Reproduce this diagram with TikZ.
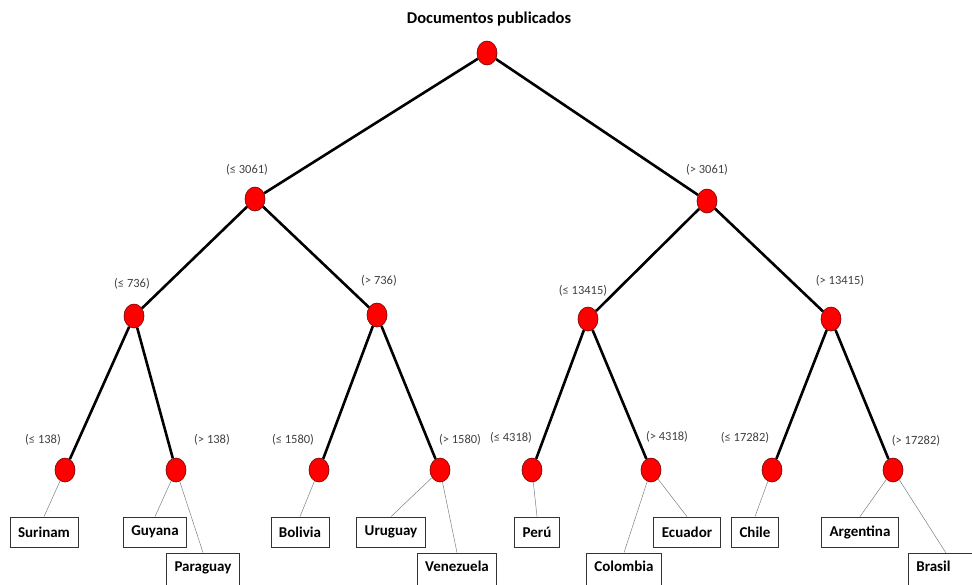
\documentclass[tikz,border=0pt]{standalone}
\usepackage{fontspec}
\setmainfont{Carlito}
\usetikzlibrary{shapes.geometric}
\begin{document}
\begin{tikzpicture}[x=1pt,y=-1pt,
  split/.style={ellipse,draw=red!45!black,line width=0.6pt,fill=red,minimum width=20pt,minimum height=24pt,inner sep=0pt},
  cond/.style={text=black!75,font=\fontsize{12.5}{14}\selectfont,inner sep=0pt},
  country/.style={draw=black!80,line width=0.8pt,fill=white,font=\bfseries\fontsize{15}{17}\selectfont,minimum height=30pt,inner xsep=8pt,inner ysep=0pt},
  lowcountry/.style={country,minimum height=36pt,text depth=9pt},
  branch/.style={line width=2.6pt,black},
  leafline/.style={line width=0.5pt,black!50}]
\useasboundingbox (0,0) rectangle (972,584);
\begin{scope}
\clip (0,0) rectangle (972,584);
% title
\node[font=\bfseries\fontsize{16.5}{19}\selectfont] (title) at (489,19) {Documentos publicados};
% split nodes
\node[split] (r) at (487,53) {};
\node[split] (a) at (255,199) {};
\node[split] (b) at (707,201) {};
\node[split] (aa) at (134,316) {};
\node[split] (ab) at (377,315) {};
\node[split] (ba) at (588,319) {};
\node[split] (bb) at (831,319) {};
\node[split] (aaa) at (65,470) {};
\node[split] (aab) at (176,470) {};
\node[split] (aba) at (319,470) {};
\node[split] (abb) at (440,470) {};
\node[split] (baa) at (532,470) {};
\node[split] (bab) at (651,470) {};
\node[split] (bba) at (772,470) {};
\node[split] (bbb) at (893,470) {};
% branches
\draw[branch] (r) -- (a);
\draw[branch] (r) -- (b);
\draw[branch] (a) -- (aa);
\draw[branch] (a) -- (ab);
\draw[branch] (b) -- (ba);
\draw[branch] (b) -- (bb);
\draw[branch] (aa) -- (aaa);
\draw[branch] (aa) -- (aab);
\draw[branch] (ab) -- (aba);
\draw[branch] (ab) -- (abb);
\draw[branch] (ba) -- (baa);
\draw[branch] (ba) -- (bab);
\draw[branch] (bb) -- (bba);
\draw[branch] (bb) -- (bbb);
% condition labels
\node[cond] (la) at (247,170) {(≤ 3061)};
\node[cond] (lb) at (707,170) {(> 3061)};
\node[cond] (laa) at (132,284) {(≤ 736)};
\node[cond] (lab) at (379,281) {(> 736)};
\node[cond] (lba) at (583,291) {(≤ 13415)};
\node[cond] (lbb) at (840,281) {(> 13415)};
\node[cond] (laaa) at (43,440) {(≤ 138)};
\node[cond] (laab) at (212,440) {(> 138)};
\node[cond] (laba) at (293,440) {(≤ 1580)};
\node[cond] (labb) at (460,440) {(> 1580)};
\node[cond] (lbaa) at (511,438) {(≤ 4318)};
\node[cond] (lbab) at (667,437) {(> 4318)};
\node[cond] (lbba) at (745,438) {(≤ 17282)};
\node[cond] (lbbb) at (916,441) {(> 17282)};
% country boxes
\node[country] (sur) at (44,532) {Surinam};
\node[country] (guy) at (155,532) {Guyana};
\node[lowcountry] (par) at (203,571) {Paraguay};
\node[country] (bol) at (300,532) {Bolivia};
\node[country] (uru) at (391,532) {Uruguay};
\node[lowcountry] (ven) at (457,571) {Venezuela};
\node[country] (per) at (537,532) {Perú};
\node[lowcountry] (col) at (624,571) {Colombia};
\node[country] (ecu) at (687,532) {Ecuador};
\node[country] (chi) at (755,532) {Chile};
\node[country] (arg) at (860,532) {Argentina};
% the Brasil box runs past the right edge; its line goes to the point above the text
\node[lowcountry,text width=90pt,align=left,anchor=west] (bra) at (908,571) {Brasil};
\coordinate (bratop) at (946,553);
% leaf connectors
\draw[leafline] (aaa) -- (sur.north);
\draw[leafline] (aab) -- (guy.north);
\draw[leafline] (aab) -- (par.north);
\draw[leafline] (aba) -- (bol.north);
\draw[leafline] (abb) -- (uru.north);
\draw[leafline] (abb) -- (ven.north);
\draw[leafline] (baa) -- (per.north);
\draw[leafline] (bab) -- (col.north);
\draw[leafline] (bab) -- (ecu.north);
\draw[leafline] (bba) -- (chi.north);
\draw[leafline] (bbb) -- (arg.north);
\draw[leafline] (bbb) -- (bratop);
\end{scope}
\end{tikzpicture}
\end{document}
